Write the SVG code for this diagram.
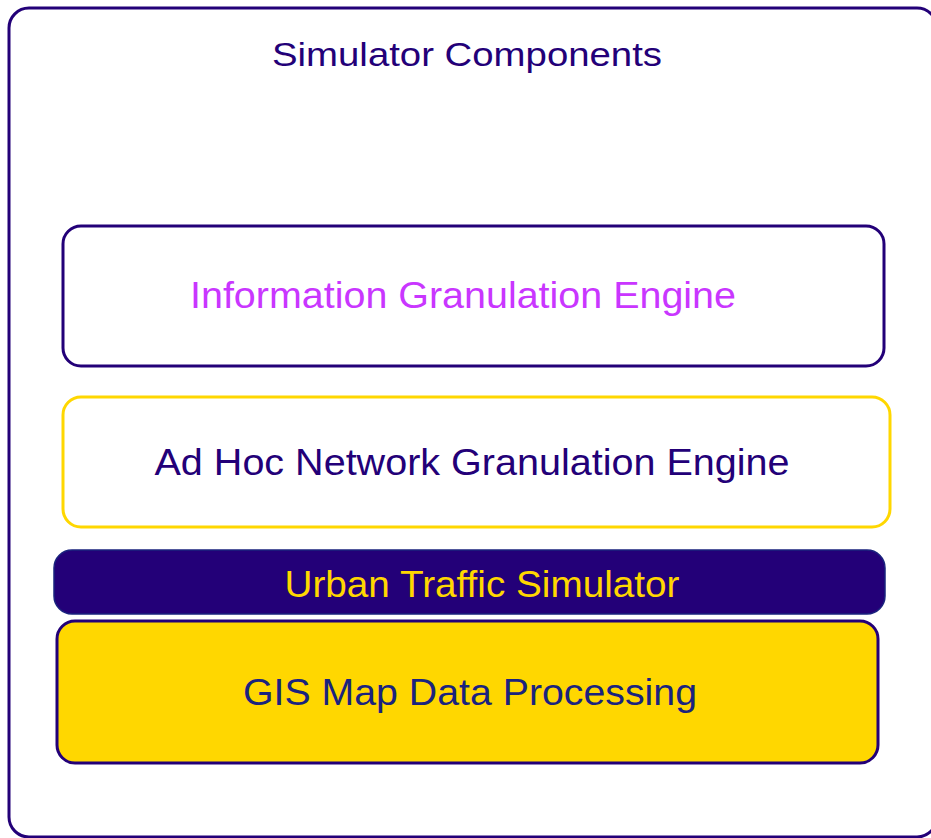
<svg xmlns="http://www.w3.org/2000/svg" width="931" height="838" viewBox="0 0 931 838">
<style>
text{font-family:"Liberation Sans","DejaVu Sans",sans-serif;text-anchor:middle}
.b{stroke-width:3}
</style>
<rect width="931" height="838" fill="#fff"/>
<g id="container">
<rect x="9" y="8" width="928" height="829" rx="20" fill="#fff" stroke="#230078" stroke-width="3"/>
<text x="467" y="66" font-size="34" fill="#230078" textLength="390" lengthAdjust="spacingAndGlyphs">Simulator Components</text>
</g>
<g id="info">
<rect x="63" y="226" width="821" height="140" rx="18" fill="#fff" stroke="#230078" class="b"/>
<text x="463" y="308" font-size="36" fill="#C936FF" textLength="546" lengthAdjust="spacingAndGlyphs">Information Granulation Engine</text>
</g>
<g id="adhoc">
<rect x="63" y="397" width="827" height="130" rx="18" fill="#fff" stroke="#FFD700" class="b"/>
<text x="472" y="475" font-size="36" fill="#230078" textLength="635" lengthAdjust="spacingAndGlyphs">Ad Hoc Network Granulation Engine</text>
</g>
<g id="urban">
<rect x="54" y="550" width="831" height="64" rx="18" fill="#230078" stroke="#1a237e" stroke-width="1.5"/>
<text x="482" y="597" font-size="36" fill="#FFD700" textLength="395" lengthAdjust="spacingAndGlyphs">Urban Traffic Simulator</text>
</g>
<g id="gis">
<rect x="57" y="621" width="821" height="142" rx="18" fill="#FFD700" stroke="#230078" class="b"/>
<text x="470" y="705" font-size="36" fill="#1a237e" textLength="454" lengthAdjust="spacingAndGlyphs">GIS Map Data Processing</text>
</g>
<g id="connectors"/>
</svg>
